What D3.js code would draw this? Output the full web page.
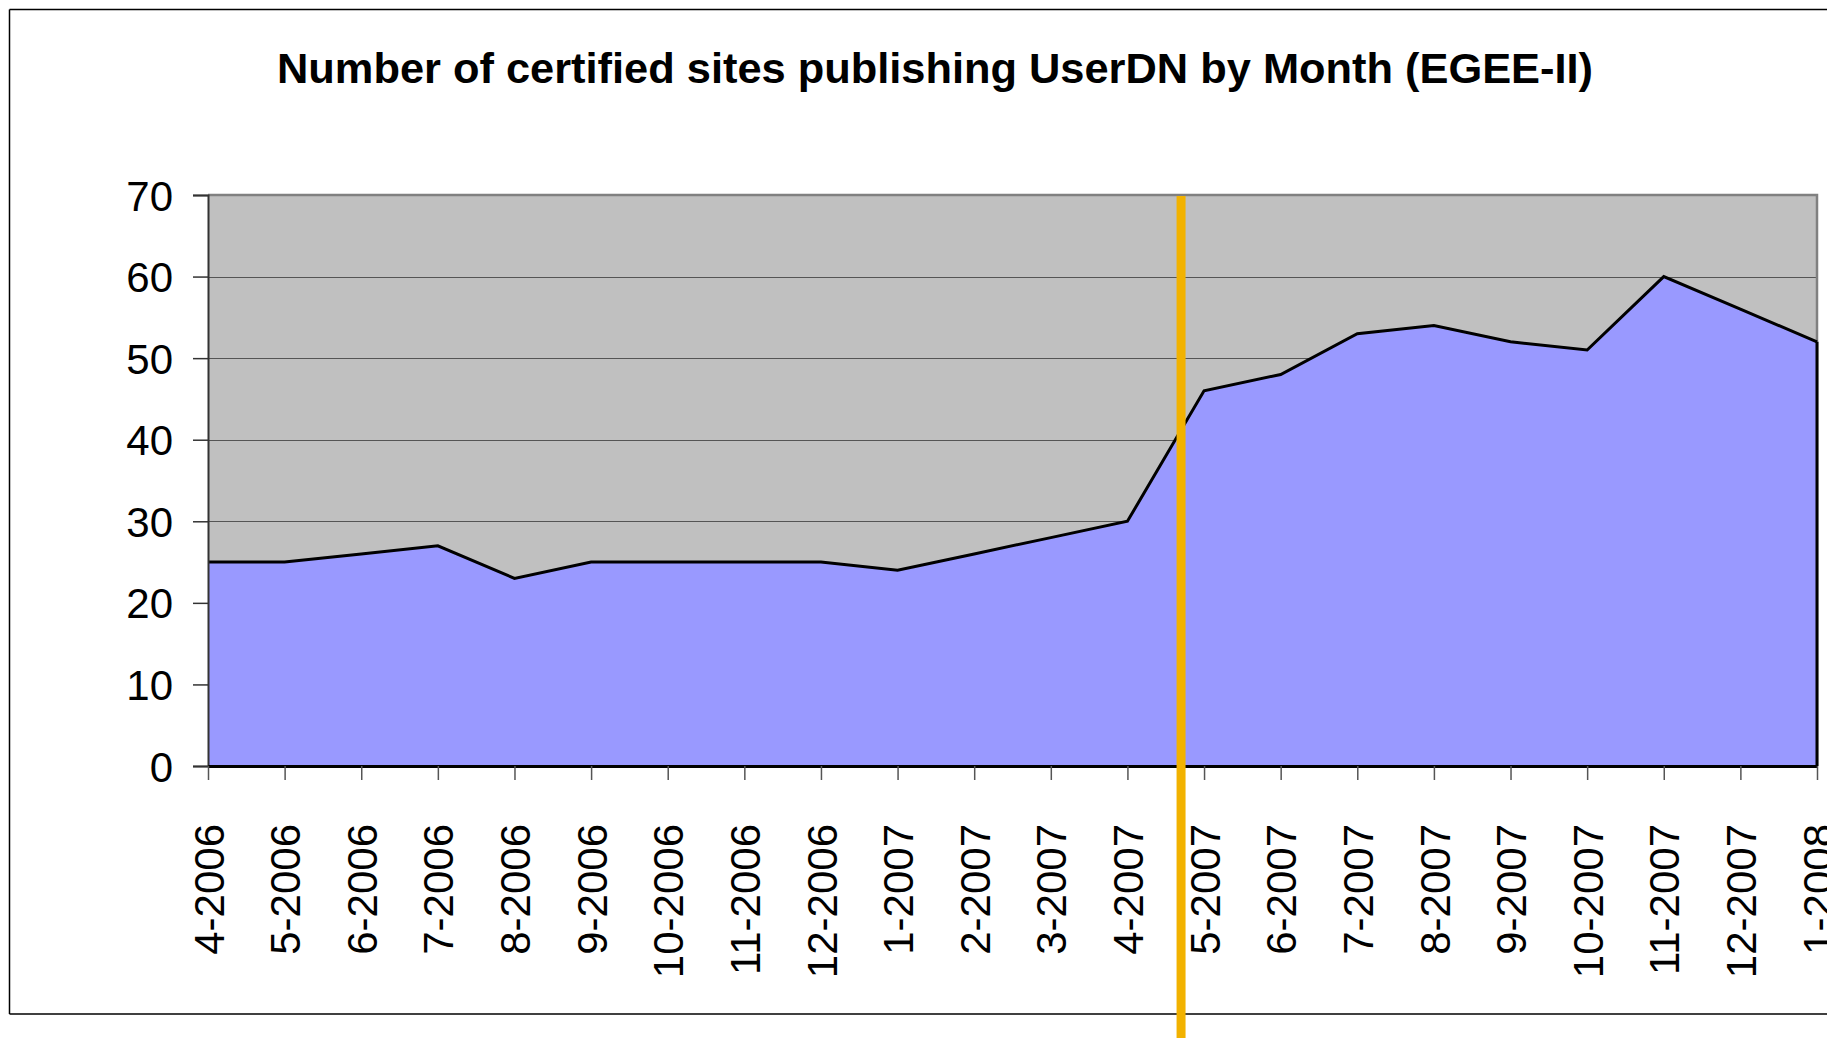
<!DOCTYPE html>
<html>
<head>
<meta charset="utf-8">
<script src="https://cdn.jsdelivr.net/npm/d3@7"></script>
<style>
  html, body { margin: 0; padding: 0; background: #fff; }
  svg { display: block; font-family: "Liberation Sans", Arial, sans-serif; }
</style>
</head>
<body>
<svg id="chart"></svg>
<script>
// months on the x axis
const months = ["4-2006", "5-2006", "6-2006", "7-2006", "8-2006", "9-2006", "10-2006",
  "11-2006", "12-2006", "1-2007", "2-2007", "3-2007", "4-2007", "5-2007", "6-2007",
  "7-2007", "8-2007", "9-2007", "10-2007", "11-2007", "12-2007", "1-2008"];

// number of certified sites publishing UserDN
const siteCounts = [25, 25, 26, 27, 23, 25, 25, 25, 25, 24, 26, 28, 30, 46, 48, 53, 54, 52, 51, 60, 56, 52];

const yTicks = [0, 10, 20, 30, 40, 50, 60, 70];

// vertical marker: sits part way between two months
const markerMonth = "4-2007";
const markerOffset = 0.7;

const title = "Number of certified sites publishing UserDN by Month (EGEE-II)";

const width = 1827, height = 1038;
const margin = { top: 195, right: 10, bottom: 272, left: 208 };

const svg = d3.select("#chart").attr("width", width).attr("height", height);

const x = d3.scalePoint()
  .domain(months)
  .range([margin.left, width - margin.right]);

const y = d3.scaleLinear()
  .domain([0, 70])
  .range([height - margin.bottom, margin.top]);

// outer frame (right side runs off the picture)
const frame = svg.append("g").attr("class", "frame");
frame.append("line").attr("x1", 9.5).attr("x2", width).attr("y1", 9.5).attr("y2", 9.5)
  .attr("stroke", "#000").attr("stroke-width", 1.5);
frame.append("line").attr("x1", 9.5).attr("x2", 9.5).attr("y1", 9.5).attr("y2", 1014)
  .attr("stroke", "#000").attr("stroke-width", 1.5);
frame.append("line").attr("x1", 9.5).attr("x2", width).attr("y1", 1014).attr("y2", 1014)
  .attr("stroke", "#000").attr("stroke-width", 1.5);

// title
svg.append("text")
  .attr("x", 935)
  .attr("y", 83)
  .attr("text-anchor", "middle")
  .attr("font-size", 42)
  .attr("font-weight", "bold")
  .attr("textLength", 1316)
  .attr("lengthAdjust", "spacingAndGlyphs")
  .text(title);

// plot background
svg.append("rect")
  .attr("x", x.range()[0])
  .attr("y", y(70))
  .attr("width", x.range()[1] - x.range()[0])
  .attr("height", y(0) - y(70))
  .attr("fill", "#c0c0c0");

// gridlines
svg.append("g").attr("class", "grid")
  .selectAll("line")
  .data(yTicks.filter(d => d > 0 && d < 70))
  .join("line")
  .attr("x1", x.range()[0]).attr("x2", x.range()[1])
  .attr("y1", d => Math.round(y(d)) + 0.5).attr("y2", d => Math.round(y(d)) + 0.5)
  .attr("stroke", "#555").attr("stroke-width", 1.2);

// plot border (top and right)
svg.append("path")
  .attr("d", `M${x.range()[0]},${y(70)}H${x.range()[1]}V${y(0)}`)
  .attr("fill", "none").attr("stroke", "#808080").attr("stroke-width", 2.5);

const data = months.map((m, i) => ({ month: m, value: siteCounts[i] }));

// area
svg.append("path")
  .datum(data)
  .attr("fill", "#9999ff")
  .attr("d", d3.area().x(d => x(d.month)).y0(y(0)).y1(d => y(d.value)));

// outline of the area
svg.append("path")
  .datum(data)
  .attr("fill", "none")
  .attr("stroke", "#000")
  .attr("stroke-width", 3)
  .attr("stroke-linejoin", "miter")
  .attr("d", d3.line().x(d => x(d.month)).y(d => y(d.value)));

svg.append("line")
  .attr("x1", x(months[months.length - 1])).attr("x2", x(months[months.length - 1]))
  .attr("y1", y(siteCounts[siteCounts.length - 1])).attr("y2", y(0))
  .attr("stroke", "#000").attr("stroke-width", 3);

// y axis
const yAxis = svg.append("g")
  .attr("transform", `translate(${x.range()[0]},0)`)
  .call(d3.axisLeft(y).tickValues(yTicks).tickSize(15).tickPadding(20).tickFormat(d3.format("d")));
yAxis.select(".domain").attr("stroke", "#333").attr("stroke-width", 2);
yAxis.selectAll(".tick line").attr("stroke", "#333").attr("stroke-width", 1.5);
yAxis.selectAll("text")
  .attr("font-size", 42)
  .attr("font-family", "'Liberation Sans', Arial, sans-serif")
  .attr("fill", "#000")
  .attr("dy", "0.36em");

// x axis
const xAxis = svg.append("g")
  .attr("transform", `translate(0,${y(0)})`)
  .call(d3.axisBottom(x).tickSize(14).tickSizeOuter(0).tickPadding(0));
xAxis.select(".domain").attr("stroke", "#000").attr("stroke-width", 3);
xAxis.selectAll(".tick line").attr("stroke", "#555").attr("stroke-width", 1.5);
xAxis.selectAll("text")
  .attr("font-size", 42)
  .attr("font-family", "'Liberation Sans', Arial, sans-serif")
  .attr("fill", "#000")
  .attr("text-anchor", "end")
  .attr("dy", "0.36em")
  .attr("transform", "translate(0,58) rotate(-90)")
  .attr("x", 0)
  .attr("y", 0);

// vertical marker
const markerX = x(markerMonth) + markerOffset * x.step();
svg.append("line")
  .attr("x1", markerX).attr("x2", markerX)
  .attr("y1", y(70) + 1).attr("y2", height)
  .attr("stroke", "#f2b200")
  .attr("stroke-width", 9);
</script>
</body>
</html>
